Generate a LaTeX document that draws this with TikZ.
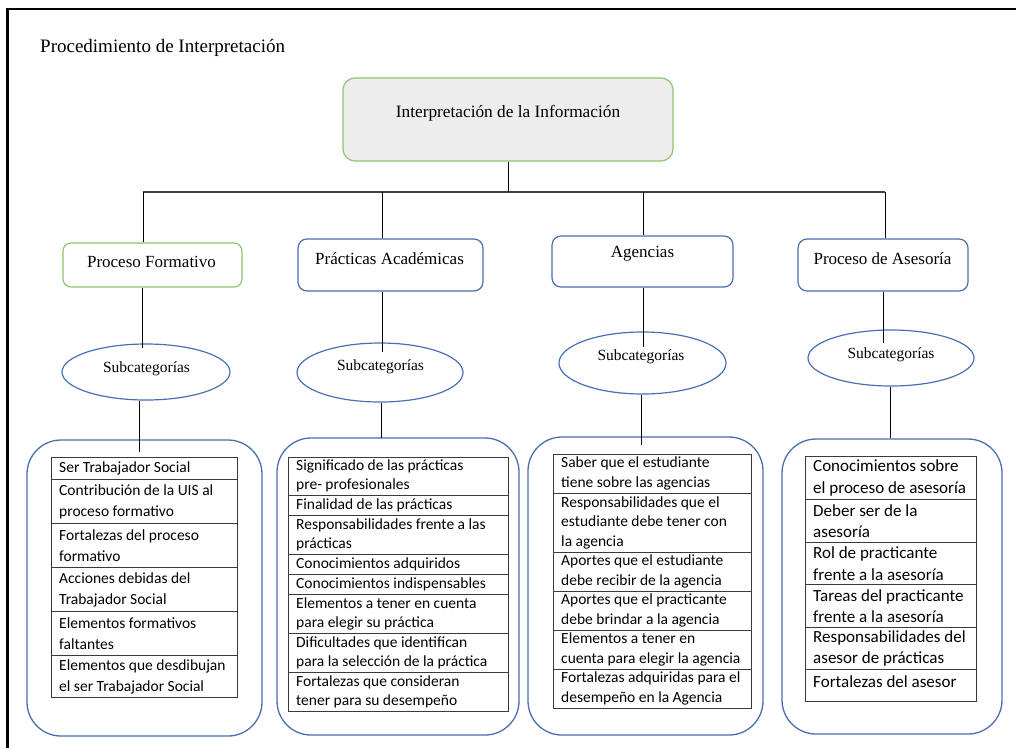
\documentclass[tikz,border=0pt]{standalone}
\usepackage{fontspec}
\setmainfont{Liberation Serif}
\newfontfamily\calibrifont{Carlito}
\usetikzlibrary{shapes.geometric}
\definecolor{boxgreen}{HTML}{8FC46E}
\definecolor{boxblue}{HTML}{4A6FAE}
\definecolor{ellblue}{HTML}{4A70B4}
\definecolor{mainfill}{HTML}{EDEDED}
\definecolor{tableline}{HTML}{3A3A3A}
\newcommand{\tcell}[7]{%
  \draw[cellline] (#2,#4) rectangle (#3,#5);
  \node[celltext] (#1) at (#2+8,#6) {#7};}
\begin{document}
\begin{tikzpicture}[x=1pt,y=-1pt,
  conn/.style={draw=black,line width=0.9pt},
  bar/.style={draw=black!75,line width=1.6pt},
  mainbox/.style={draw=boxgreen,fill=mainfill,line width=1.2pt,rounded corners=12pt,inner sep=0pt},
  catgreen/.style={draw=boxgreen,line width=1.2pt,rounded corners=8pt,inner sep=0pt},
  catblue/.style={draw=boxblue,line width=1.2pt,rounded corners=9pt,inner sep=0pt},
  ell/.style={ellipse,draw=ellblue,line width=1.2pt,inner sep=0pt},
  bigbox/.style={draw=boxblue,line width=1.3pt,rounded corners=34pt,inner sep=0pt},
  serif18/.style={font=\fontsize{17.3}{21}\selectfont,inner sep=0pt},
  catlbl/.style={font=\fontsize{17}{20}\selectfont,inner sep=0pt},
  sublbl/.style={font=\fontsize{15.5}{18}\selectfont,inner sep=0pt},
  cellline/.style={draw=tableline,line width=1pt},
  celltext/.style={anchor=west,align=left,inner sep=0pt,font=\calibrifont\fontsize{15.5}{19.5}\selectfont}]
\useasboundingbox (0,0) rectangle (1016,748);
\fill[white] (0,0) rectangle (1016,748);
% frame (top and left)
\draw[line width=2.4pt] (7.3,748) -- (7.3,9) -- (1016,9);
% title
\node[anchor=base west,font=\fontsize{19}{23}\selectfont,inner sep=0pt] (title) at (40,52) {Procedimiento de Interpretación};
% main box
\node[mainbox,minimum width=330pt,minimum height=83pt] (main) at (508,119.5) {};
\node[serif18] (mainlbl) at (508,113) {Interpretación de la Información};
% category boxes
\node[catgreen,minimum width=179pt,minimum height=44pt] (c1) at (152.5,265) {};
\node[catblue,minimum width=185pt,minimum height=52pt] (c2) at (390.5,265) {};
\node[catblue,minimum width=181pt,minimum height=51pt] (c3) at (642.5,261.5) {};
\node[catblue,minimum width=170pt,minimum height=52pt] (c4) at (883,265) {};
\node[catlbl] (c1t) at (151.5,262) {Proceso Formativo};
\node[catlbl] (c2t) at (389.5,259) {Prácticas Académicas};
\node[catlbl] (c3t) at (642.5,254) {Agencias};
\node[catlbl] (c4t) at (882.5,259) {Proceso de Asesoría};
% connectors from main box
\coordinate (hbL) at (143,192);
\coordinate (hb2) at (382,192);
\coordinate (hb3) at (643,192);
\coordinate (hbR) at (885,192);
\draw[bar] (hbL) -- (hbR);
\draw[conn] (main.south) -- (main.south |- hbL);
\draw[conn] (hbL) -- (hbL |- c1.north);
\draw[conn] (hb2) -- (hb2 |- c2.north);
\draw[conn] (hb3) -- (hb3 |- c3.north);
\draw[conn] (hbR) -- (hbR |- c4.north);
% ellipses
\node[ell,minimum width=168pt,minimum height=56pt] (e1) at (146,372) {};
\node[ell,minimum width=166pt,minimum height=59pt] (e2) at (380,372.5) {};
\node[ell,minimum width=167pt,minimum height=62pt] (e3) at (642.5,363) {};
\node[ell,minimum width=166pt,minimum height=56pt] (e4) at (891,358) {};
\node[sublbl] (e1t) at (146.5,369) {Subcategorías};
\node[sublbl] (e2t) at (380.5,367) {Subcategorías};
\node[sublbl] (e3t) at (641,357) {Subcategorías};
\node[sublbl] (e4t) at (891,355) {Subcategorías};
\coordinate (k1) at (142,348);
\coordinate (k2) at (382,352);
\coordinate (k3) at (643,347);
\coordinate (k4) at (883,343);
\draw[conn] (c1.south -| k1) -- (k1);
\draw[conn] (c2.south -| k2) -- (k2);
\draw[conn] (c3.south -| k3) -- (k3);
\draw[conn] (c4.south -| k4) -- (k4);
% big rounded boxes
\node[bigbox,minimum width=235pt,minimum height=296pt] (r1) at (144.5,588) {};
\node[bigbox,minimum width=242pt,minimum height=297pt] (r2) at (398,586.5) {};
\node[bigbox,minimum width=235pt,minimum height=298pt] (r3) at (645.5,586) {};
\node[bigbox,minimum width=220pt,minimum height=295pt] (r4) at (892,586.5) {};
\coordinate (m1) at (139,452);
\coordinate (m2) at (381,438);
\coordinate (m3) at (641,445);
\coordinate (m4) at (890,438);
\draw[conn] (e1.south -| m1) -- (m1);
\draw[conn] (e2.south -| m2) -- (m2);
\draw[conn] (e3.south -| m3) -- (m3);
\draw[conn] (e4.south -| m4) -- (m4);
% column 1 table
\begin{scope}[celltext/.append style={font=\calibrifont\fontsize{15.5}{21}\selectfont}]
\tcell{a1}{51}{237}{457}{479}{468}{Ser Trabajador Social}
\tcell{a2}{51}{237}{479}{523}{501.5}{Contribución de la UIS al\\proceso formativo}
\tcell{a3}{51}{237}{523}{567}{545.5}{Fortalezas del proceso\\formativo}
\tcell{a4}{51}{237}{567}{611}{589.5}{Acciones debidas del\\Trabajador Social}
\tcell{a5}{51}{237}{611}{655}{633.5}{Elementos formativos\\faltantes}
\tcell{a6}{51}{237}{655}{697}{676.5}{Elementos que desdibujan\\el ser Trabajador Social}
\end{scope}
% column 2 table
\begin{scope}[celltext/.append style={font=\calibrifont\fontsize{15.5}{19}\selectfont}]
\tcell{b1}{288}{508}{457}{495}{476}{Significado de las prácticas\\pre- profesionales}
\tcell{b2}{288}{508}{495}{515}{505}{Finalidad de las prácticas}
\tcell{b3}{288}{508}{515}{554}{534.5}{Responsabilidades frente a las\\prácticas}
\tcell{b4}{288}{508}{554}{574}{564}{Conocimientos adquiridos}
\tcell{b5}{288}{508}{574}{594}{584}{Conocimientos indispensables}
\tcell{b6}{288}{508}{594}{633}{613.5}{Elementos a tener en cuenta\\para elegir su práctica}
\tcell{b7}{288}{508}{633}{672}{652.5}{Dificultades que identifican\\para la selección de la práctica}
\tcell{b8}{288}{508}{672}{711}{691.5}{Fortalezas que consideran\\tener para su desempeño}
\end{scope}
% column 3 table
\begin{scope}[celltext/.append style={font=\calibrifont\fontsize{15.5}{19.5}\selectfont}]
\tcell{d1}{553}{751}{454}{493}{473.5}{Saber que el estudiante\\tiene sobre las agencias}
\tcell{d2}{553}{751}{493}{552}{522.5}{Responsabilidades que el\\estudiante debe tener con\\la agencia}
\tcell{d3}{553}{751}{552}{591}{571.5}{Aportes que el estudiante\\debe recibir de la agencia}
\tcell{d4}{553}{751}{591}{630}{610.5}{Aportes que el practicante\\debe brindar a la agencia}
\tcell{d5}{553}{751}{630}{669}{649.5}{Elementos a tener en\\cuenta para elegir la agencia}
\tcell{d6}{553}{751}{669}{708}{688.5}{Fortalezas adquiridas para el\\desempeño en la Agencia}
\end{scope}
% column 4 table
\begin{scope}[celltext/.append style={font=\calibrifont\fontsize{17}{21.5}\selectfont}]
\tcell{f1}{805}{976}{456}{499}{478}{Conocimientos sobre\\el proceso de asesoría}
\tcell{f2}{805}{976}{499}{542}{521}{Deber ser de la\\asesoría}
\tcell{f3}{805}{976}{542}{584}{563.5}{Rol de practicante\\frente a la asesoría}
\tcell{f4}{805}{976}{584}{627}{606}{Tareas del practicante\\frente a la asesoría}
\tcell{f5}{805}{976}{627}{669}{648.5}{Responsabilidades del\\asesor de prácticas}
\tcell{f6}{805}{976}{669}{701}{682}{Fortalezas del asesor}
\end{scope}
\end{tikzpicture}
\end{document}
